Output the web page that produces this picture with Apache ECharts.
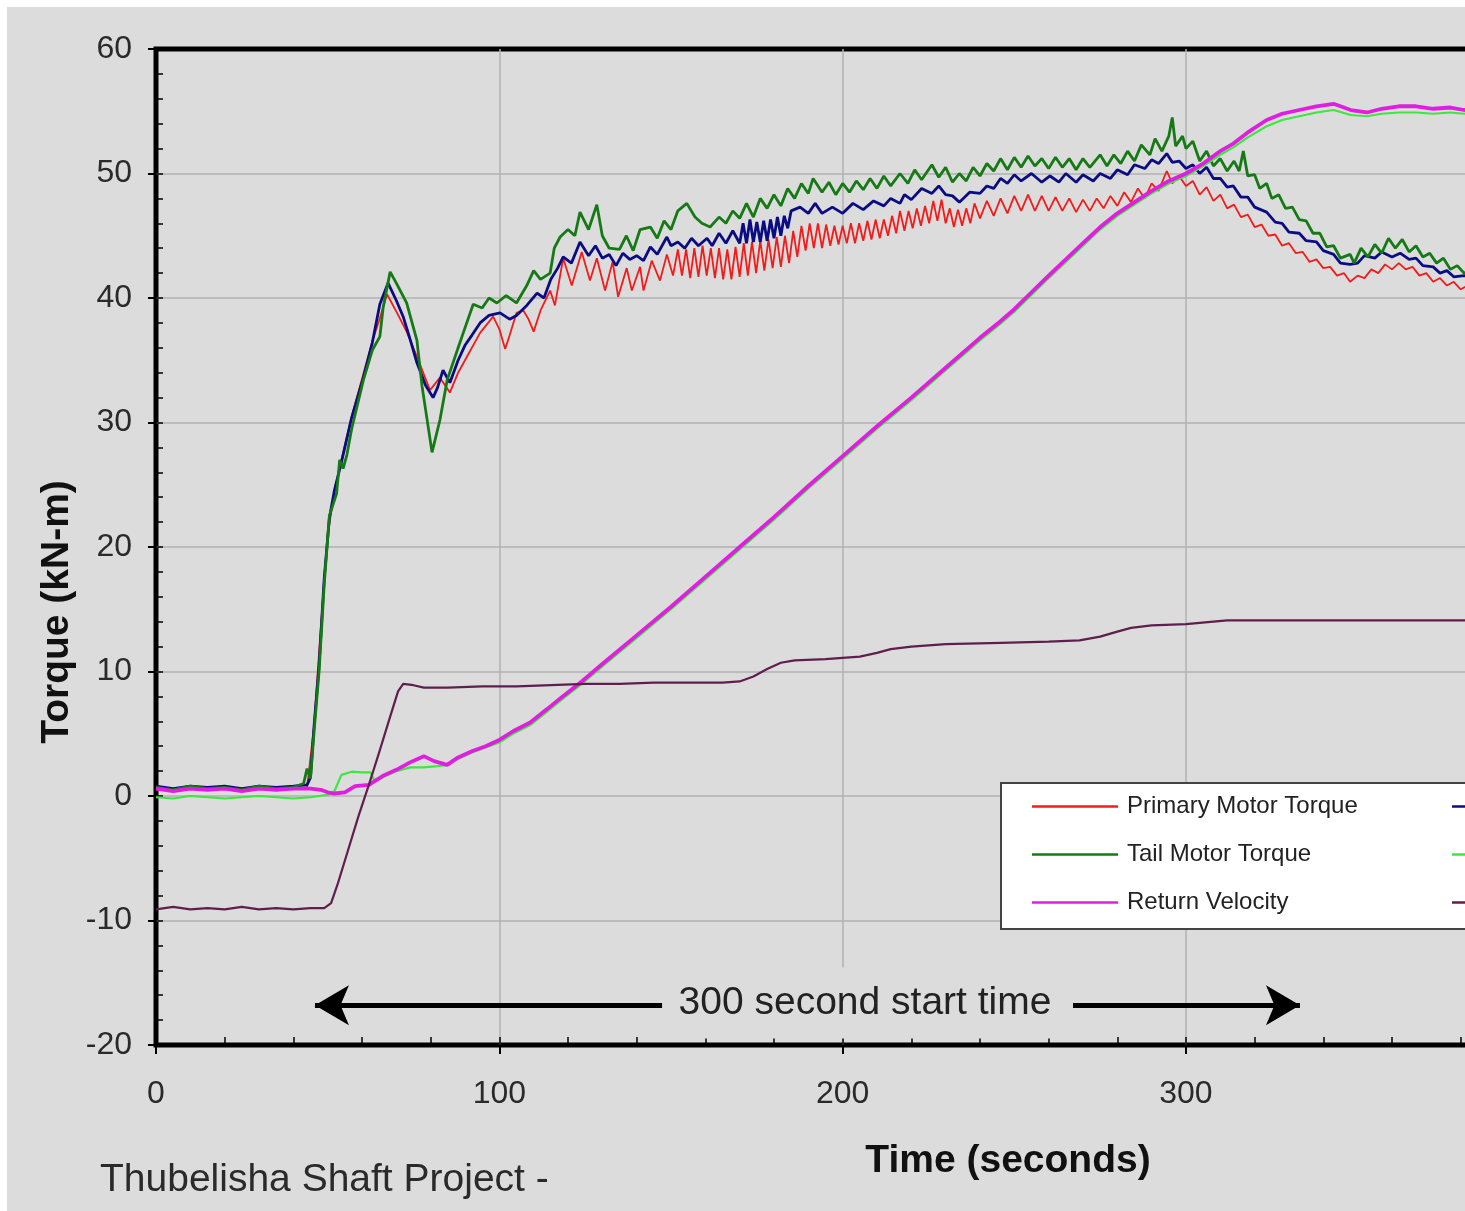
<!DOCTYPE html>
<html>
<head>
<meta charset="utf-8">
<script src="https://cdn.jsdelivr.net/npm/echarts@6/dist/echarts.min.js"></script>
<style>
  html, body { margin: 0; padding: 0; background: #ffffff; width: 1465px; height: 1211px; overflow: hidden; }
  #chart { position: absolute; left: 7px; top: 7px; width: 1458px; height: 1204px; background: #dcdcdc; }
</style>
</head>
<body>
<div id="chart"></div>
<script>
// ---- axis ticks ----
const xTicks = [0, 100, 200, 300, 400];
const yTicks = [-20, -10, 0, 10, 20, 30, 40, 50, 60];

// ---- series names ----
const seriesNames = ['Primary Motor Torque', 'Secondary Motor Torque', 'Tail Motor Torque', 'Tail Velocity', 'Return Velocity', 'Primary Velocity'];

// ---- series data: [time (s), value] ----
const primaryMotorTorque = [[0,0.6],[5,0.4],[10,0.7],[15,0.5],[20,0.6],[25,0.5],[30,0.7],[35,0.5],[40,0.6],[44,0.7],[46,5.5],[48,13.5],[50,21],[52,24.5],[54,27],[57,30.5],[60,33.5],[63,36.5],[65,38.2],[67.3,40.3],[70.2,38.8],[73,37.3],[76,35.3],[79.8,32.6],[82.7,33.6],[85.6,32.4],[88,34],[91,35.5],[94.4,37.2],[98.2,38.5],[100,37.5],[101.7,35.9],[103,37],[105,38.8],[107,39],[108.5,38.3],[110,37.3],[112,39],[114.8,40.6],[116.2,39.4],[118.6,43.2],[121.1,41],[124,43.7],[126.4,41.4],[128.4,43.2],[130.8,40.6],[133,42.9],[134.6,40.1],[137.1,42.4],[138.6,40.6],[141,42.5],[142,40.6],[144.4,43],[146.8,41.4],[148.8,43.5],[150.6,41.8],[152,43.9],[153.2,41.8],[154.4,43.9],[155.6,41.6],[156.8,44],[158,41.7],[159.2,44.2],[160.4,41.8],[161.6,44],[162.8,41.6],[164,44],[165.2,41.5],[166.4,43.9],[167.6,41.5],[168.8,44.1],[170,41.7],[171.2,44.4],[172.4,41.8],[173.6,44.5],[174.8,42],[176,44.6],[177.2,42.2],[178.4,44.7],[179.6,42.4],[180.8,44.9],[182,42.5],[183.2,45],[184.4,42.8],[185.6,45.4],[186.8,43.3],[188,45.8],[189.2,43.8],[190.4,46],[191.6,44],[192.8,46],[194,44],[195.2,45.9],[196.4,44.2],[197.6,45.8],[198.8,44.3],[200,45.8],[201.2,44.4],[202.4,46],[203.6,44.4],[204.8,46],[206,44.6],[207.2,46.2],[208.4,44.7],[209.6,46.3],[210.8,44.8],[212,46.3],[213.2,45],[214.4,46.6],[215.6,45.2],[216.7,47],[218,45.4],[219.2,47],[220.4,45.6],[221.6,47.2],[222.8,45.8],[224,47.4],[225.2,46],[226.4,47.8],[227.6,46.2],[228.8,47.9],[230,46],[231.2,47.2],[232.4,45.7],[233.6,47.1],[234.8,45.8],[236,47.2],[237.2,46],[238.4,47.6],[240,46.4],[242,47.8],[244,46.6],[246,48],[248,46.8],[250,48.2],[252,47],[254,48.3],[256,47],[258,48.2],[260,47],[262,48.1],[264,47],[266,48],[268,46.9],[270,47.9],[272,47],[274,48],[276,47.2],[278,48.2],[280,47.4],[282,48.5],[284,47.7],[286,48.8],[288,48],[290,49.2],[292,48.6],[294.4,50.2],[296,49.2],[298,49.8],[300,49],[302,49.4],[304,48.3],[306,48.9],[308,47.8],[310,48.3],[312,47.2],[314,47.5],[316,46.5],[318,46.7],[320,45.7],[322,45.9],[324,45],[326,45.1],[328,44.2],[330,44.4],[332,43.6],[334,43.7],[336,42.9],[338,43.1],[340,42.4],[342,42.5],[344,41.8],[346,42],[347.8,41.3],[350,41.8],[352,41.6],[354,42.3],[356,42],[358,42.7],[360,42.3],[362,42.8],[364,42.3],[366,42.5],[368,41.8],[370,42],[372,41.3],[374,41.6],[376,41],[378,41.3],[380,40.7],[382,41],[385,40.8]];

const secondaryMotorTorque = [[0,0.8],[5,0.6],[10,0.8],[15,0.7],[20,0.8],[25,0.6],[30,0.8],[35,0.7],[40,0.8],[44,0.9],[45,1.5],[46,5.5],[47.5,10.5],[49,17.5],[50.5,22.3],[52,24.6],[54,26.8],[57,30.4],[60.4,33.6],[63,36.4],[65.2,39.5],[67.6,41.2],[70,39.8],[72,38.5],[74,36.7],[76,34.8],[78.5,33],[80.7,32],[82,32.8],[83.6,34.2],[85.6,33.2],[88,35],[90,36.2],[92,37],[94.4,38],[97,38.6],[100.2,38.8],[103,38.3],[105,38.6],[108,39.4],[111,40.4],[113,40],[115,41.5],[117,42.4],[118.6,43.3],[121,42.8],[123.5,44.5],[126,43.4],[128,44.2],[130,43.2],[132,43.5],[134,42.6],[136,43.6],[138,43.1],[140,43.4],[142,43],[144,44.1],[146,43.5],[148.8,44.9],[150,44.2],[152,44.5],[154,44],[156,44.8],[158,44.2],[160.5,44.8],[162,44.2],[164,45.2],[166,44.4],[168,45.4],[170,44.4],[171,46],[172,44.4],[173,46.3],[174,44.5],[175,46.1],[176,44.5],[177,46.2],[178,44.6],[179,46.3],[180,44.8],[181,46.5],[182,45],[183,46.6],[184,45.6],[185,47],[187.6,47.3],[190,46.8],[192,47.6],[194,46.8],[197,47.3],[200,46.8],[203,47.6],[206,47.1],[209,47.8],[212,47.4],[214,48],[216.7,47.6],[218,48.3],[220,47.9],[223,48.8],[226,48.4],[228,49],[230,48.3],[232,48.2],[234,47.7],[237,48.5],[240,48.4],[242,49],[244,48.8],[246,49.6],[248,49.2],[250,49.9],[252,49.4],[255,50],[258,49.3],[260.4,49.8],[263,49.3],[265,50],[268,49.3],[270,49.9],[273,49.4],[275,50],[278,49.6],[280,50.3],[283,49.9],[285,50.7],[288,50.4],[290,51.1],[292,50.8],[294.4,51.6],[296,50.9],[298,51],[300,50.4],[302,50.7],[304,50],[306,50.5],[308,49.6],[310,49.6],[312,48.9],[313.8,49],[316,48.1],[318,48.1],[320,47.3],[323.5,46.9],[326,46.1],[328,46],[330,45.3],[333,45.2],[335,44.6],[338,44.5],[340,43.8],[343,43.5],[345,42.8],[347.8,42.7],[350,42.8],[352,43.4],[355,43.2],[357,43.7],[360,43.3],[362.4,43.6],[365,43.1],[367,43.2],[369,42.6],[372,42.5],[374,42],[376,42.2],[378,41.7],[381,41.8],[385,41.6]];

const tailMotorTorque = [[0,0.7],[5,0.5],[10,0.8],[15,0.6],[20,0.7],[25,0.5],[30,0.8],[35,0.6],[40,0.7],[43,1.0],[44,2.2],[45,1.4],[46,5],[47.5,10],[49,17],[50.5,22.5],[52.6,24.3],[53.5,27],[54.5,26.3],[55.6,27.4],[57,29.5],[60.4,33.4],[63,35.8],[65.2,36.9],[66.2,39.3],[68.2,42.1],[70,41.2],[73,39.6],[76,36.6],[77.5,32.9],[80.4,27.6],[82.7,30.2],[84.8,33.4],[88,36],[90,37.6],[92.4,39.5],[95,39.2],[97,40],[99.3,39.6],[102,40.2],[105,39.6],[108,41],[110,42.2],[112,41.5],[114.8,42],[116,44],[117.7,44.9],[120,45.5],[122,45],[123.5,46.9],[126,45.5],[128.4,47.5],[130,45],[132,44],[135,43.9],[137,45],[139,43.8],[141,45.5],[144,45.7],[146,44.8],[148,46.2],[150,45.5],[152,47],[154.6,47.6],[157,46.5],[159,46],[161.4,45.7],[164,46.5],[166,46],[168,47],[170,46.4],[172,47.6],[174,46.5],[176,48],[178,47.2],[180,48.3],[182,47.4],[184,48.8],[186,48],[188,49.2],[190,48.4],[191.4,49.6],[194,48.5],[196,49.3],[198,48.3],[200,49.2],[202,48.5],[204,49.4],[206,48.7],[208,49.6],[210,48.8],[212,49.8],[214,49],[216.7,50],[219,49.2],[221,50.3],[223,49.5],[226,50.7],[228,49.7],[230,50.5],[232,49.3],[234,50],[236,49.4],[238,50.5],[240,49.8],[242,50.8],[244,50.2],[246,51.2],[248,50.3],[250,51.3],[252,50.5],[254,51.4],[256,50.6],[258,51.2],[260,50.4],[262,51.3],[264,50.5],[266,51.2],[268,50.3],[270,51.2],[272,50.5],[275,51.5],[277,50.6],[279,51.5],[281,50.8],[283,51.8],[285,51],[287,52.3],[289.5,51.5],[291,52.8],[293,51.8],[295,53],[296,54.5],[297,52.2],[299,53],[300,52],[302,52.6],[304,51],[306,51.8],[308,50.6],[310,51.2],[312,50.2],[314,51],[315.5,50.2],[316.7,51.8],[318,49.8],[320,49.9],[321.5,48.8],[323.5,49.2],[325,48],[327,48.3],[329,47.2],[331,47.3],[333,46.3],[335,46.2],[337,45.2],[339,45.2],[341,44.1],[343,44.2],[345,43.2],[347.8,43.5],[349,42.8],[351,44],[353,43.3],[355,44.3],[357,43.6],[359,44.8],[361,44],[363,44.7],[365,43.7],[367,44.2],[369,43.3],[371,43.6],[373,42.8],[375,43.2],[377,42.3],[379,42.6],[381,42],[385,42.2]];

const tailVelocity = [[0,-0.1],[5,-0.2],[10,0],[15,-0.1],[20,-0.2],[25,-0.1],[30,0],[35,-0.1],[40,-0.2],[45,-0.1],[50,0.1],[52,0.4],[54,1.7],[57,1.95],[60,1.9],[62.5,1.9],[63.5,1.3],[66,1.5],[70,2.0],[74,2.3],[78,2.3],[82,2.4],[85,2.5],[88,3],[92,3.5],[96,3.9],[100,4.3],[104,5],[109,5.7],[114,6.8],[118,7.7],[124,9],[130,10.4],[140,12.7],[150,15],[160,17.4],[170,19.8],[180,22.2],[190,24.7],[200,27.1],[210,29.5],[220,31.8],[230,34.2],[240,36.6],[245.8,37.9],[250,38.9],[260,41.6],[270,44.2],[275,45.5],[280,46.6],[290,48.4],[295,49.2],[300,49.8],[305,50.6],[310,51.5],[313.8,52.1],[318,52.9],[323.5,53.8],[328,54.3],[333,54.6],[338,54.9],[343,55.1],[348,54.7],[352.7,54.6],[357,54.8],[362,54.9],[367,54.9],[372,54.8],[377,54.9],[381,54.8],[385,54.8]];

const returnVelocity = [[0,0.6],[5,0.4],[10,0.6],[15,0.5],[20,0.6],[25,0.4],[30,0.6],[35,0.5],[40,0.6],[45,0.6],[48,0.5],[50,0.3],[52,0.2],[55,0.3],[58,0.8],[62,0.9],[66,1.6],[70,2.1],[74,2.7],[78,3.2],[81,2.8],[84.8,2.5],[88,3.1],[92,3.6],[96,4],[100,4.5],[104,5.2],[109,5.9],[114,7],[118,7.9],[124,9.2],[130,10.6],[140,12.9],[150,15.2],[160,17.6],[170,20],[180,22.4],[190,24.9],[200,27.3],[210,29.7],[220,32],[230,34.4],[240,36.8],[245.8,38.1],[250,39.1],[260,41.8],[270,44.4],[275,45.7],[280,46.8],[290,48.6],[295,49.4],[300,50],[305,50.8],[310,51.8],[313.8,52.4],[318,53.3],[323.5,54.3],[328,54.8],[333,55.1],[338,55.4],[343,55.6],[348,55.1],[352.7,54.9],[357,55.2],[362,55.4],[367,55.4],[372,55.2],[377,55.3],[381,55.1],[385,55.2]];

const primaryVelocity = [[0,-9.1],[5,-8.9],[10,-9.1],[15,-9],[20,-9.1],[25,-8.9],[30,-9.1],[35,-9],[40,-9.1],[45,-9],[49,-9],[51,-8.6],[53,-7],[56,-4.3],[59,-1.6],[62,0.9],[65,3.5],[68,6.2],[70.5,8.4],[72,9],[75,8.9],[78,8.7],[85,8.7],[95,8.8],[105,8.8],[115,8.9],[125,9],[135,9],[145,9.1],[155,9.1],[165,9.1],[170,9.2],[174,9.6],[178,10.2],[182,10.7],[186,10.9],[195,11],[205,11.2],[210,11.5],[214,11.8],[220,12],[230,12.2],[246,12.3],[260,12.4],[269,12.5],[275,12.8],[280,13.2],[284,13.5],[290,13.7],[300,13.8],[304,13.9],[308,14],[312,14.1],[320,14.1],[340,14.1],[360,14.1],[385,14.1]];

// ---- annotation (data coordinates) ----
const annotationText = '300 second start time';
const arrowLeft = [[147.4, -16.8], [46.3, -16.8]];
const arrowRight = [[267.1, -16.8], [333.2, -16.8]];

const FONT = "'Liberation Sans', Arial, sans-serif";
const seriesData = [primaryMotorTorque, secondaryMotorTorque, tailMotorTorque, tailVelocity, returnVelocity, primaryVelocity];
const seriesColors = ['#f01c1c', '#0c0c82', '#157a15', '#3fe63f', '#e01ee0', '#5e1f4e'];
const seriesWidths = [1.8, 2.8, 2.8, 2.2, 3.8, 2.2];

const chart = echarts.init(document.getElementById('chart'), null, { renderer: 'canvas' });

const series = seriesData.map((d, i) => ({
  name: seriesNames[i],
  type: 'line',
  xAxisIndex: 0,
  yAxisIndex: 0,
  data: d,
  showSymbol: false,
  symbol: 'none',
  smooth: false,
  color: seriesColors[i],
  lineStyle: { color: seriesColors[i], width: seriesWidths[i] },
  z: 3 + i,
  animation: false
}));

// arrows of the annotation
series.push({
  type: 'line',
  name: 'annotation',
  xAxisIndex: 0,
  yAxisIndex: 0,
  data: [],
  silent: true,
  animation: false,
  markLine: {
    silent: true,
    animation: false,
    symbol: ['none', 'arrow'],
    symbolSize: [30, 34],
    label: { show: false },
    lineStyle: { color: '#000', width: 5, type: 'solid' },
    itemStyle: { color: '#000' },
    data: [
      [{ coord: arrowLeft[0] }, { coord: arrowLeft[1] }],
      [{ coord: arrowRight[0] }, { coord: arrowRight[1] }]
    ]
  }
});

const gridLeft = 149, gridTop = 42, gridWidth = 1373.3, gridHeight = 996;

const option = {
  backgroundColor: '#dcdcdc',
  animation: false,
  grid: {
    left: gridLeft, top: gridTop, width: gridWidth, height: gridHeight,
    show: true, borderColor: '#000', borderWidth: 5, backgroundColor: 'transparent',
    containLabel: false,
    outerBoundsMode: 'none'
  },
  legend: {
    data: seriesNames,
    orient: 'horizontal',
    left: 994,
    top: 776,
    width: 840,
    padding: [7, 60, 10, 31],
    backgroundColor: '#ffffff',
    borderColor: '#444',
    borderWidth: 2,
    icon: 'rect',
    itemWidth: 86,
    itemHeight: 2.5,
    itemGap: 15,
    selectedMode: false,
    textStyle: {
      fontFamily: FONT, fontSize: 24, color: '#222',
      width: 310, height: 33, lineHeight: 33, padding: [0, 0, 0, 4]
    }
  },
  xAxis: [
    {
      type: 'value', min: 0, max: 400, interval: 100, position: 'bottom',
      axisLine: { show: false, onZero: false },
      axisTick: { show: true, inside: false, length: 9, lineStyle: { color: '#000', width: 2 } },
      axisLabel: { show: true, margin: 33, fontFamily: FONT, fontSize: 32, color: '#2a2a2a',
        formatter: v => (xTicks.indexOf(v) >= 0 ? String(v) : '') },
      splitLine: { show: true, showMinLine: false, showMaxLine: false, lineStyle: { color: '#b2b2b2', width: 1.5 } }
    },
    {
      type: 'value', min: 0, max: 400, interval: 20, position: 'bottom',
      axisLine: { show: false, onZero: false },
      axisTick: { show: true, inside: true, length: 8, lineStyle: { color: '#000', width: 1.5 } },
      axisLabel: { show: false },
      splitLine: { show: false }
    }
  ],
  yAxis: [
    {
      type: 'value', min: -20, max: 60, interval: 10, position: 'left',
      axisLine: { show: false, onZero: false },
      axisTick: { show: true, inside: false, length: 8, lineStyle: { color: '#000', width: 2 } },
      axisLabel: { show: true, margin: 24, fontFamily: FONT, fontSize: 32, color: '#2a2a2a',
        formatter: v => (yTicks.indexOf(v) >= 0 ? String(v) : '') },
      splitLine: { show: true, showMinLine: false, showMaxLine: false, lineStyle: { color: '#b2b2b2', width: 1.5 } }
    },
    {
      type: 'value', min: -20, max: 60, interval: 2, position: 'left',
      axisLine: { show: false, onZero: false },
      axisTick: { show: true, inside: true, length: 7, lineStyle: { color: '#000', width: 1.5 } },
      axisLabel: { show: false },
      splitLine: { show: false }
    }
  ],
  graphic: [
    {
      type: 'text', x: 50, y: 605, rotation: Math.PI / 2, z: 100,
      style: { text: 'Torque (kN-m)', fontFamily: FONT, fontWeight: 'bold', fontSize: 39, fill: '#111',
        textAlign: 'center', textVerticalAlign: 'middle' }
    },
    {
      type: 'text', x: 1001, y: 1154, z: 100,
      style: { text: 'Time (seconds)', fontFamily: FONT, fontWeight: 'bold', fontSize: 39, fill: '#111',
        textAlign: 'center', textVerticalAlign: 'middle' }
    },
    {
      type: 'text', x: 93, y: 1173, z: 100,
      style: { text: 'Thubelisha Shaft Project -', fontFamily: FONT, fontSize: 39, fill: '#2a2a2a',
        textAlign: 'left', textVerticalAlign: 'middle' }
    },
    {
      type: 'text', x: 858, y: 996, z: 100,
      style: { text: annotationText, fontFamily: FONT, fontSize: 39, fill: '#222',
        textAlign: 'center', textVerticalAlign: 'middle',
        backgroundColor: '#dcdcdc', padding: [16, 10] }
    }
  ],
  series: series
};

chart.setOption(option);
</script>
</body>
</html>
